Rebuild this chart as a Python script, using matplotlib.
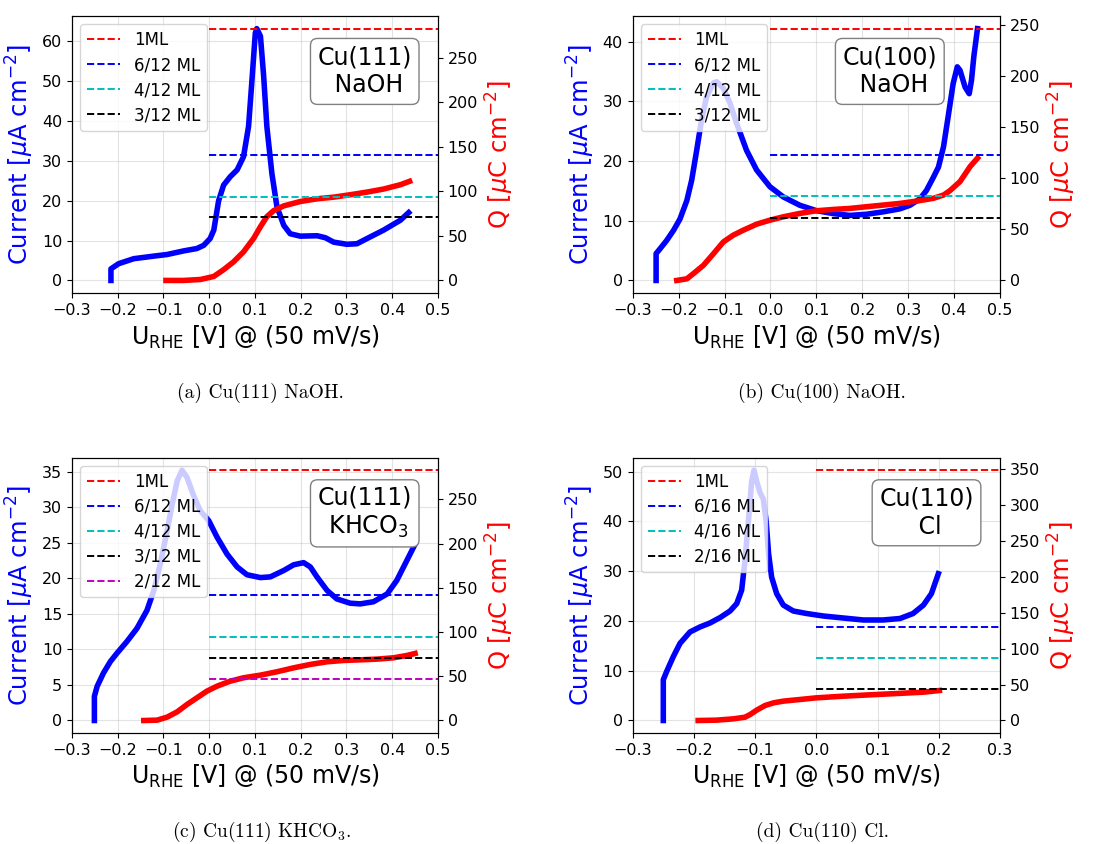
import numpy as np
import matplotlib
matplotlib.use("Agg")
import matplotlib.pyplot as plt
from matplotlib.ticker import MultipleLocator

# ---- data ----
# (a) Cu(111) NaOH
a_cur_x = [-0.2148, -0.2148, -0.198, -0.165, -0.121, -0.092, -0.056, -0.027, -0.012, 0.002, 0.010,
           0.0206, 0.0315, 0.046, 0.061, 0.075, 0.086, 0.093, 0.1008, 0.104, 0.112, 0.119, 0.126,
           0.137, 0.148, 0.163, 0.177, 0.199, 0.236, 0.254, 0.272, 0.301, 0.323, 0.345, 0.381,
           0.418, 0.436]
a_cur_y = [0.0, 2.9, 4.2, 5.45, 6.1, 6.5, 7.4, 8.0, 8.8, 10.5, 12.6,
           20.0, 23.9, 26.0, 27.7, 31.0, 38.6, 49.5, 62.0, 63.1, 61.2, 51.2, 38.6,
           26.8, 18.5, 13.8, 11.7, 11.1, 11.2, 10.7, 9.6, 9.06, 9.2, 10.5, 12.6,
           15.1, 17.0]
a_q_x = [-0.0945, -0.056, -0.019, 0.010, 0.0315, 0.053, 0.075, 0.097, 0.112, 0.126, 0.141,
         0.163, 0.199, 0.236, 0.272, 0.308, 0.345, 0.381, 0.418, 0.438]
a_q_y = [0.0, 0.0, 1.1, 4.5, 12.1, 20.8, 32.1, 47.2, 60.4, 71.7, 78.5,
         83.8, 88.7, 91.8, 93.6, 96.3, 99.3, 102.7, 107.6, 111.4]
a_ml = [283.0, 141.5, 94.3, 70.8]
a_ml_labels = ["1ML", "6/12 ML", "4/12 ML", "3/12 ML"]

# (b) Cu(100) NaOH
b_cur_x = [-0.249, -0.249, -0.2405, -0.226, -0.211, -0.197, -0.182, -0.1715, -0.1606, -0.150,
           -0.139, -0.124, -0.117, -0.1025, -0.088, -0.0735, -0.052, -0.030, -0.001, 0.028,
           0.064, 0.100, 0.137, 0.173, 0.210, 0.246, 0.282, 0.304, 0.326, 0.340, 0.355, 0.366,
           0.377, 0.387, 0.398, 0.407, 0.413, 0.424, 0.433, 0.438, 0.443, 0.451]
b_cur_y = [0.0, 4.5, 5.3, 6.7, 8.4, 10.3, 13.4, 16.8, 21.8, 26.9,
           30.8, 33.1, 33.3, 32.2, 29.7, 26.3, 21.8, 18.5, 15.7, 14.0,
           12.6, 11.7, 11.2, 10.9, 11.1, 11.5, 12.0, 12.6, 13.7, 15.1, 17.3, 19.0,
           22.4, 27.4, 33.0, 35.8, 35.2, 32.4, 31.3, 33.6, 37.5, 42.2]
b_q_x = [-0.204, -0.182, -0.168, -0.146, -0.124, -0.1025, -0.081, -0.059, -0.030, -0.001,
         0.028, 0.064, 0.100, 0.137, 0.173, 0.210, 0.246, 0.282, 0.319, 0.355, 0.377, 0.391,
         0.413, 0.435, 0.451]
b_q_y = [0.0, 1.6, 6.6, 14.8, 26.2, 37.7, 44.3, 49.2, 55.1, 59.0,
         62.3, 65.6, 68.2, 69.5, 70.5, 72.2, 73.8, 75.4, 77.7, 80.4, 83.6, 87.9,
         96.8, 111.5, 119.7]
b_ml = [246.5, 123.2, 82.2, 61.6]
b_ml_labels = ["1ML", "6/12 ML", "4/12 ML", "3/12 ML"]

# (c) Cu(111) KHCO3
c_cur_x = [-0.251, -0.251, -0.245, -0.231, -0.216, -0.2017, -0.180, -0.158, -0.136, -0.121,
           -0.107, -0.092, -0.081, -0.070, -0.0595, -0.0486, -0.034, -0.0195, -0.001, 0.017,
           0.039, 0.061, 0.0825, 0.112, 0.1336, 0.163, 0.1846, 0.2064, 0.221, 0.2355, 0.2575,
           0.279, 0.308, 0.330, 0.359, 0.389, 0.410, 0.432, 0.450]
c_cur_y = [0.0, 3.4, 4.8, 6.7, 8.3, 9.46, 11.1, 12.95, 15.5, 18.3,
           22.0, 26.7, 30.4, 33.7, 35.2, 34.2, 31.6, 29.5, 28.1, 25.8,
           23.4, 21.6, 20.5, 20.1, 20.2, 21.1, 21.9, 22.2, 21.6, 20.2, 18.3,
           17.1, 16.5, 16.4, 16.7, 17.8, 19.7, 22.5, 24.8]
c_q_x = [-0.143, -0.114, -0.092, -0.070, -0.0486, -0.027, -0.005, 0.017, 0.046, 0.075, 0.112,
         0.148, 0.185, 0.221, 0.2575, 0.294, 0.330, 0.367, 0.403, 0.432, 0.450]
c_q_y = [0.0, 0.4, 3.8, 9.8, 18.1, 25.6, 33.2, 38.8, 44.5, 48.3, 51.3,
         55.1, 59.6, 63.4, 66.4, 67.9, 68.6, 69.4, 70.9, 73.5, 75.8]
c_ml = [283.0, 141.5, 94.3, 70.8, 47.2]
c_ml_labels = ["1ML", "6/12 ML", "4/12 ML", "3/12 ML", "2/12 ML"]

# (d) Cu(110) Cl
d_cur_x = [-0.250, -0.250, -0.2445, -0.2336, -0.2227, -0.2063, -0.190, -0.1737, -0.157, -0.141,
           -0.130, -0.122, -0.1165, -0.111, -0.1056, -0.1018, -0.0975, -0.092, -0.0866, -0.082,
           -0.078, -0.073, -0.0648, -0.054, -0.0376, -0.0158, 0.0114, 0.044, 0.0768, 0.109,
           0.1367, 0.158, 0.175, 0.188, 0.1993]
d_cur_y = [0.0, 8.2, 9.85, 12.85, 15.5, 17.8, 18.8, 19.6, 20.7, 22.0,
           23.5, 26.2, 32.2, 40.1, 48.1, 50.3, 48.1, 45.8, 44.5, 40.1,
           33.5, 28.8, 25.5, 23.2, 22.0, 21.5, 21.0, 20.6, 20.2, 20.2,
           20.5, 21.5, 23.2, 25.5, 29.5]
d_q_x = [-0.193, -0.163, -0.1356, -0.1165, -0.108, -0.0975, -0.0838, -0.070, -0.054, -0.0267,
         0.0, 0.044, 0.0877, 0.131, 0.175, 0.201]
d_q_y = [0.0, 0.5, 2.3, 4.6, 8.4, 14.4, 20.9, 24.6, 27.0, 29.3,
         31.6, 33.9, 35.8, 37.6, 39.5, 41.8]
d_ml = [349.0, 130.9, 87.3, 43.6]
d_ml_labels = ["1ML", "6/16 ML", "4/16 ML", "2/16 ML"]

ml_colors = ['r', 'b', 'c', 'k', 'm']

panels = [
    dict(rect=[0.0649, 0.6528, 0.330, 0.3282], cx=a_cur_x, cy=a_cur_y, qx=a_q_x, qy=a_q_y,
         ml=a_ml, labels=a_ml_labels, xlim=(-0.3, 0.5), box="Cu(111)\n NaOH", bx=0.80,
         caption="(a) Cu(111) NaOH.", cap_xy=(260, 393)),
    dict(rect=[0.5705, 0.6528, 0.3312, 0.3282], cx=b_cur_x, cy=b_cur_y, qx=b_q_x, qy=b_q_y,
         ml=b_ml, labels=b_ml_labels, xlim=(-0.3, 0.5), box="Cu(100)\n NaOH", bx=0.70,
         caption="(b) Cu(100) NaOH.", cap_xy=(822, 393)),
    dict(rect=[0.0649, 0.1315, 0.330, 0.3262], cx=c_cur_x, cy=c_cur_y, qx=c_q_x, qy=c_q_y,
         ml=c_ml, labels=c_ml_labels, xlim=(-0.3, 0.5), box="Cu(111)\n KHCO$_3$", bx=0.80,
         caption="(c) Cu(111) KHCO$_3$.", cap_xy=(262, 832)),
    dict(rect=[0.5705, 0.1315, 0.3312, 0.3262], cx=d_cur_x, cy=d_cur_y, qx=d_q_x, qy=d_q_y,
         ml=d_ml, labels=d_ml_labels, xlim=(-0.3, 0.3), box="Cu(110)\n Cl", bx=0.80,
         caption="(d) Cu(110) Cl.", cap_xy=(822, 832)),
]

W, H = 1109, 844
fig = plt.figure(figsize=(W / 100, H / 100), dpi=100)

for p in panels:
    ax = fig.add_axes(p['rect'])
    ax.plot(p['cx'], p['cy'], color='b', lw=4)
    ax.set_xlim(*p['xlim'])
    ax.xaxis.set_major_locator(MultipleLocator(0.1))
    ax.grid(True, alpha=0.35)
    ax.set_xlabel(r"U$_{\mathrm{RHE}}$ [V] @ (50 mV/s)", fontsize=17)
    ax.set_ylabel(r"Current [$\mu$A cm$^{-2}$]", fontsize=17.5, color='b')
    ax.tick_params(labelsize=11.5)

    ax2 = ax.twinx()
    ax2.plot(p['qx'], p['qy'], color='r', lw=4)
    for val, lab, col in zip(p['ml'], p['labels'], ml_colors):
        ax2.plot([0, p['xlim'][1]], [val, val], '--', color=col, lw=1.4, label=lab)
    ax2.set_ylabel(r"Q [$\mu$C cm$^{-2}$]", fontsize=17.5, color='r')
    ax2.tick_params(labelsize=11.5)
    ax2.legend(loc='upper left', fontsize=12, labelspacing=0.42)
    ax2.text(p['bx'], 0.8, p['box'], transform=ax2.transAxes, ha='center', va='center',
             fontsize=17, bbox=dict(boxstyle='round', facecolor='white', edgecolor='gray'))

    cx, cy = p['cap_xy']
    fig.text(cx / W, 1 - cy / H, p['caption'], ha='center', va='center',
             fontsize=14, family='cmr10', math_fontfamily='cm')

fig.savefig("out.png", dpi=100)
